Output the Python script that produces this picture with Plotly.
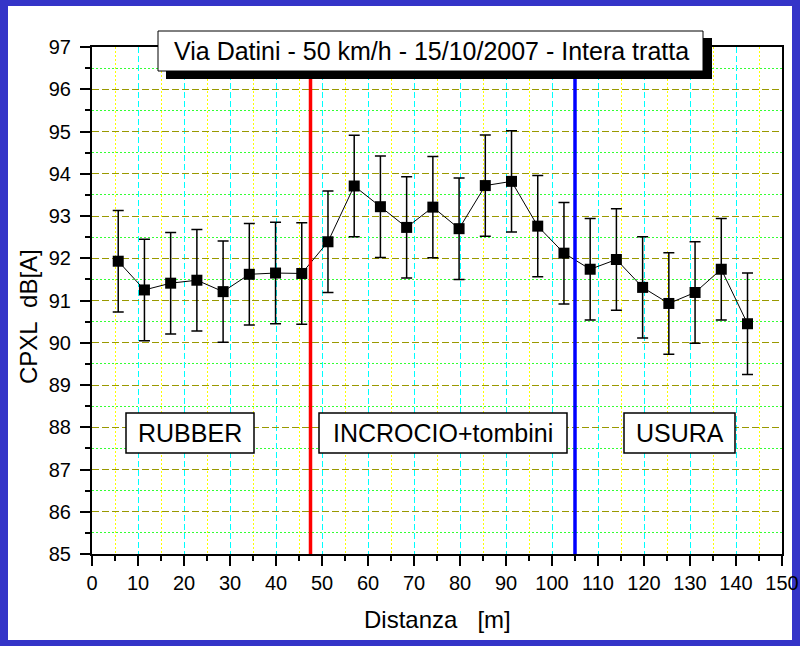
import plotly.graph_objects as go

# ---- data ----
distanza = [5.7, 11.4, 17.1, 22.8, 28.5, 34.2, 39.9, 45.6, 51.3, 57.0, 62.7, 68.4, 74.1,
            79.8, 85.5, 91.2, 96.9, 102.6, 108.3, 114.0, 119.7, 125.4, 131.1, 136.8, 142.5]
cpxl = [91.93, 91.25, 91.41, 91.48, 91.21, 91.62, 91.65, 91.64, 92.39, 93.71, 93.22, 92.73, 93.21,
        92.70, 93.72, 93.82, 92.76, 92.12, 91.74, 91.97, 91.31, 90.93, 91.19, 91.74, 90.45]
errore = [1.2, 1.2, 1.2, 1.2, 1.2, 1.2, 1.2, 1.2, 1.2, 1.2, 1.2, 1.2, 1.2,
          1.2, 1.2, 1.2, 1.2, 1.2, 1.2, 1.2, 1.2, 1.2, 1.2, 1.2, 1.2]
confini = [47.5, 105]
colori_confini = ["#FF0000", "#0000FF"]
zone = ["RUBBER", "INCROCIO+tombini", "USURA"]
titolo = "Via Datini - 50 km/h - 15/10/2007 - Intera tratta"

# ---- layout geometry (pixels) ----
WIDTH, HEIGHT = 800, 646
L, T, W, H = 92, 47, 690, 507
FONT = "Arial, Liberation Sans, sans-serif"


def px(x):
    return (x - L) / W


def py(y):
    return (T + H - y) / H


fig = go.Figure()
fig.add_trace(go.Scatter(
    x=distanza, y=cpxl, mode="lines+markers",
    line=dict(color="black", width=1),
    marker=dict(symbol="square", size=11, color="black"),
    error_y=dict(type="data", array=errore, visible=True, color="black", thickness=1.5, width=5.5),
    showlegend=False,
))

shapes = []
# white page inside blue frame
shapes.append(dict(type="rect", xref="paper", yref="paper", layer="below",
                   x0=px(8), x1=px(792), y0=py(640), y1=py(6),
                   fillcolor="white", line=dict(width=0)))
# vertical boundaries
for xv, c in zip(confini, colori_confini):
    shapes.append(dict(type="line", xref="x", yref="y", x0=xv, x1=xv, y0=85, y1=97,
                       line=dict(color=c, width=3.5)))
# zone boxes
zone_px = [(126, 254), (319, 567), (624, 735)]
for (a, b) in zone_px:
    shapes.append(dict(type="rect", xref="paper", yref="paper",
                       x0=px(a), x1=px(b), y0=py(453), y1=py(413),
                       fillcolor="white", line=dict(color="black", width=1.5)))
# title box with shadow
shapes.append(dict(type="rect", xref="paper", yref="paper",
                   x0=px(166), x1=px(712), y0=py(79), y1=py(38),
                   fillcolor="black", line=dict(width=0)))
shapes.append(dict(type="rect", xref="paper", yref="paper",
                   x0=px(158), x1=px(703), y0=py(71), y1=py(31),
                   fillcolor="white", line=dict(color="black", width=1)))

annotations = []
annotations.append(dict(text=titolo, xref="paper", yref="paper", x=px(431), y=py(51),
                        xanchor="center", yanchor="middle", showarrow=False,
                        font=dict(family=FONT, size=25, color="black")))
for name, (a, b) in zip(zone, zone_px):
    annotations.append(dict(text=name, xref="paper", yref="paper", x=px((a + b) / 2), y=py(433),
                            xanchor="center", yanchor="middle", showarrow=False,
                            font=dict(family=FONT, size=25, color="black")))
annotations.append(dict(text="Distanza\u00a0\u00a0\u00a0[m]", xref="paper", yref="paper",
                        x=px(437), y=py(619), xanchor="center", yanchor="middle", showarrow=False,
                        font=dict(family=FONT, size=24, color="black")))
annotations.append(dict(text="CPXL\u00a0\u00a0dB[A]", xref="paper", yref="paper",
                        x=px(28), y=py(317), xanchor="center", yanchor="middle", showarrow=False,
                        textangle=-90, font=dict(family=FONT, size=24, color="black")))

fig.update_layout(
    width=WIDTH, height=HEIGHT, autosize=False,
    margin=dict(l=L, r=WIDTH - L - W, t=T, b=HEIGHT - T - H, pad=0, autoexpand=False),
    paper_bgcolor="#3434C8", plot_bgcolor="white",
    font=dict(family=FONT, size=20, color="black"),
    shapes=shapes, annotations=annotations,
)
fig.update_xaxes(
    range=[0, 150], tick0=0, dtick=10, ticks="outside", ticklen=10, tickwidth=2, tickcolor="black",
    showline=True, linewidth=2, linecolor="black", mirror=True, zeroline=False, automargin=False,
    showgrid=True, gridcolor="#00FFFF", griddash="6px,3px", gridwidth=1,
    tickfont=dict(family=FONT, size=20, color="black"),
    minor=dict(dtick=5, ticks="outside", ticklen=5, tickwidth=2, tickcolor="black",
               showgrid=True, gridcolor="#FFFF00", griddash="2px,2px", gridwidth=1),
)
fig.update_yaxes(
    range=[85, 97], tick0=85, dtick=1, ticks="outside", ticklen=10, tickwidth=2, tickcolor="black",
    showline=True, linewidth=2, linecolor="black", mirror=True, zeroline=False, automargin=False,
    ticklabelstandoff=5,
    showgrid=True, gridcolor="#999900", griddash="7px,3px", gridwidth=1,
    tickfont=dict(family=FONT, size=20, color="black"),
    minor=dict(dtick=0.5, ticks="outside", ticklen=5, tickwidth=2, tickcolor="black",
               showgrid=True, gridcolor="#33FF33", griddash="2px,2px", gridwidth=1),
)

fig.write_html("out.html", config={"displayModeBar": False},
               post_script="document.body.style.margin='0px';")
